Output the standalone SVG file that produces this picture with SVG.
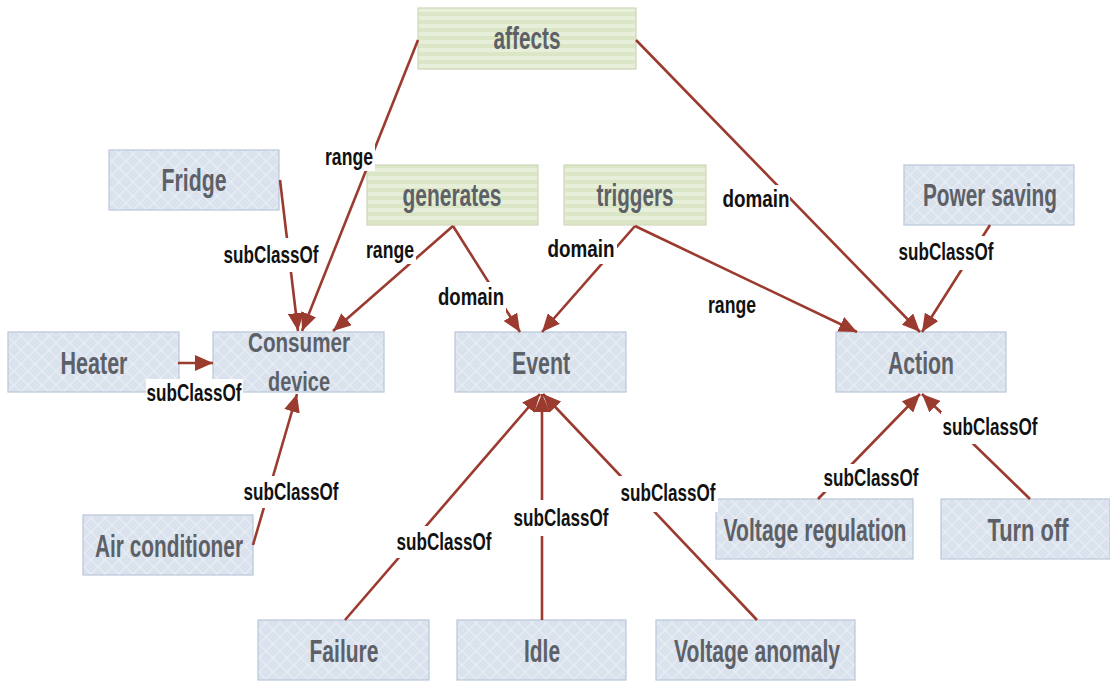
<svg xmlns="http://www.w3.org/2000/svg" width="1110" height="682" viewBox="0 0 1110 682">
<style>
.cls{fill:url(#diamond);stroke:#b9c6da;stroke-width:1.2}
.prop{fill:url(#stripes);stroke:#cdd8b8;stroke-width:1.2}
.nt{font-family:"Liberation Sans",Arial,sans-serif;font-weight:bold;font-size:32px;fill:#5d6167;text-anchor:middle}
.edge{stroke:#9b3a2f;stroke-width:2.6;fill:none;marker-end:url(#arr)}
.lbl{font-family:"Liberation Sans",Arial,sans-serif;font-weight:bold;font-size:24px;fill:#111;text-anchor:middle}
.lb{fill:#fff}
</style>
<defs>
<pattern id="diamond" width="14" height="14" patternUnits="userSpaceOnUse">
<rect width="14" height="14" fill="#dae2ed"/>
<path d="M0 7 L7 0 L14 7 L7 14 Z" fill="none" stroke="#e9eef5" stroke-width="1.2"/>
</pattern>
<pattern id="stripes" width="8" height="8" patternUnits="userSpaceOnUse">
<rect width="8" height="8" fill="#e7eed9"/>
<rect y="4" width="8" height="4" fill="#dbe6c6"/>
</pattern>
<marker id="arr" viewBox="0 0 18 16" refX="18" refY="8" markerWidth="18" markerHeight="16" markerUnits="userSpaceOnUse" orient="auto">
<path d="M0 0 L18 8 L0 16 Z" fill="#9b3a2f"/>
</marker>
</defs>
<rect width="1110" height="682" fill="#fff"/>

<g id="affects"><rect class="prop" x="418" y="8" width="218" height="61"/><text class="nt" x="527" y="49" textLength="67" lengthAdjust="spacingAndGlyphs">affects</text></g>
<g id="generates"><rect class="prop" x="367" y="165" width="171" height="60"/><text class="nt" x="452" y="206" textLength="99" lengthAdjust="spacingAndGlyphs">generates</text></g>
<g id="triggers"><rect class="prop" x="564" y="165" width="142" height="60"/><text class="nt" x="635" y="206" textLength="77" lengthAdjust="spacingAndGlyphs">triggers</text></g>
<g id="fridge"><rect class="cls" x="109" y="150" width="170" height="60"/><text class="nt" x="194" y="191" textLength="65" lengthAdjust="spacingAndGlyphs">Fridge</text></g>
<g id="power-saving"><rect class="cls" x="904" y="165" width="170" height="60"/><text class="nt" x="990" y="206" textLength="134" lengthAdjust="spacingAndGlyphs">Power saving</text></g>
<g id="heater"><rect class="cls" x="8" y="332" width="171" height="60"/><text class="nt" x="94" y="374" textLength="67" lengthAdjust="spacingAndGlyphs">Heater</text></g>
<g id="consumer-device"><rect class="cls" x="213" y="332" width="171" height="60"/><text class="nt" x="299" y="352" style="font-size:27px" textLength="102" lengthAdjust="spacingAndGlyphs">Consumer</text><text class="nt" x="299" y="391" style="font-size:27px" textLength="62" lengthAdjust="spacingAndGlyphs">device</text></g>
<g id="event"><rect class="cls" x="455" y="332" width="171" height="60"/><text class="nt" x="541" y="374" textLength="58" lengthAdjust="spacingAndGlyphs">Event</text></g>
<g id="action"><rect class="cls" x="836" y="332" width="170" height="60"/><text class="nt" x="921" y="374" textLength="66" lengthAdjust="spacingAndGlyphs">Action</text></g>
<g id="air-conditioner"><rect class="cls" x="83" y="515" width="170" height="60"/><text class="nt" x="169" y="557" textLength="148" lengthAdjust="spacingAndGlyphs">Air conditioner</text></g>
<g id="voltage-regulation"><rect class="cls" x="716" y="499" width="197" height="60"/><text class="nt" x="815" y="541" textLength="183" lengthAdjust="spacingAndGlyphs">Voltage regulation</text></g>
<g id="turn-off"><rect class="cls" x="941" y="499" width="169" height="60"/><text class="nt" x="1028" y="541" textLength="81" lengthAdjust="spacingAndGlyphs">Turn off</text></g>
<g id="failure"><rect class="cls" x="258" y="620" width="171" height="60"/><text class="nt" x="344" y="662" textLength="69" lengthAdjust="spacingAndGlyphs">Failure</text></g>
<g id="idle"><rect class="cls" x="457" y="620" width="169" height="60"/><text class="nt" x="542" y="662" textLength="36" lengthAdjust="spacingAndGlyphs">Idle</text></g>
<g id="voltage-anomaly"><rect class="cls" x="656" y="620" width="199" height="60"/><text class="nt" x="757" y="662" textLength="166" lengthAdjust="spacingAndGlyphs">Voltage anomaly</text></g>

<g id="connectors">
<line class="edge" x1="418" y1="40" x2="302" y2="331"/>
<line class="edge" x1="636" y1="40" x2="920" y2="332"/>
<line class="edge" x1="280" y1="180" x2="298" y2="331"/>
<line class="edge" x1="453" y1="226" x2="333" y2="331"/>
<line class="edge" x1="453" y1="226" x2="520" y2="332"/>
<line class="edge" x1="635" y1="226" x2="542" y2="332"/>
<line class="edge" x1="635" y1="226" x2="857" y2="332"/>
<line class="edge" x1="990" y1="225" x2="922" y2="332"/>
<line class="edge" x1="178" y1="363" x2="213" y2="363"/>
<line class="edge" x1="253" y1="545" x2="297" y2="394"/>
<line class="edge" x1="345" y1="620" x2="540" y2="394"/>
<line class="edge" x1="542" y1="620" x2="542" y2="394"/>
<line class="edge" x1="757" y1="620" x2="543" y2="394"/>
<line class="edge" x1="818" y1="499" x2="920" y2="394"/>
<line class="edge" x1="1030" y1="499" x2="922" y2="394"/>

<rect class="lb" x="323" y="143" width="52" height="28"/><text class="lbl" x="349" y="165" textLength="48" lengthAdjust="spacingAndGlyphs">range</text>
<rect class="lb" x="720" y="185" width="70" height="28"/><text class="lbl" x="756" y="207" textLength="67" lengthAdjust="spacingAndGlyphs">domain</text>
<rect class="lb" x="222" y="238" width="99" height="34"/><text class="lbl" x="271" y="263" textLength="95" lengthAdjust="spacingAndGlyphs">subClassOf</text>
<rect class="lb" x="364" y="236" width="52" height="28"/><text class="lbl" x="390" y="258" textLength="48" lengthAdjust="spacingAndGlyphs">range</text>
<rect class="lb" x="436" y="282" width="70" height="30"/><text class="lbl" x="471" y="305" textLength="66" lengthAdjust="spacingAndGlyphs">domain</text>
<rect class="lb" x="546" y="234" width="71" height="30"/><text class="lbl" x="581" y="257" textLength="67" lengthAdjust="spacingAndGlyphs">domain</text>
<rect class="lb" x="706" y="291" width="52" height="28"/><text class="lbl" x="732" y="313" textLength="48" lengthAdjust="spacingAndGlyphs">range</text>
<rect class="lb" x="896" y="236" width="99" height="34"/><text class="lbl" x="946" y="260" textLength="95" lengthAdjust="spacingAndGlyphs">subClassOf</text>
<rect class="lb" x="146" y="379" width="97" height="28"/><text class="lbl" x="194" y="401" textLength="95" lengthAdjust="spacingAndGlyphs">subClassOf</text>
<rect class="lb" x="241" y="476" width="99" height="32"/><text class="lbl" x="291" y="500" textLength="95" lengthAdjust="spacingAndGlyphs">subClassOf</text>
<rect class="lb" x="395" y="526" width="99" height="32"/><text class="lbl" x="444" y="550" textLength="95" lengthAdjust="spacingAndGlyphs">subClassOf</text>
<rect class="lb" x="511" y="500" width="99" height="36"/><text class="lbl" x="561" y="526" textLength="95" lengthAdjust="spacingAndGlyphs">subClassOf</text>
<rect class="lb" x="619" y="476" width="99" height="36"/><text class="lbl" x="668" y="501" textLength="95" lengthAdjust="spacingAndGlyphs">subClassOf</text>
<rect class="lb" x="822" y="464" width="99" height="28"/><text class="lbl" x="871" y="486" textLength="95" lengthAdjust="spacingAndGlyphs">subClassOf</text>
<rect class="lb" x="941" y="412" width="99" height="32"/><text class="lbl" x="990" y="435" textLength="95" lengthAdjust="spacingAndGlyphs">subClassOf</text>
</g>
</svg>
